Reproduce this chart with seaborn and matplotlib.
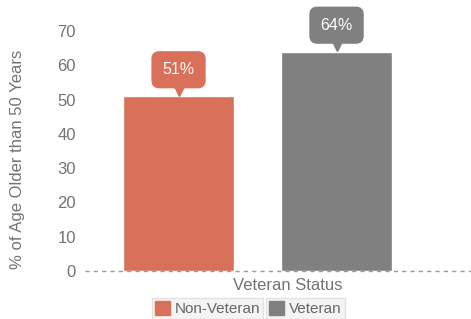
import matplotlib
matplotlib.use("Agg")
import matplotlib.pyplot as plt
import matplotlib.transforms as mtransforms
from matplotlib.patches import Patch
import seaborn as sns
import pandas as pd

categories = ["Non-Veteran", "Veteran"]
values = [51, 64]
colors = ["#d9705a", "#808080"]
yticks = [0, 10, 20, 30, 40, 50, 60, 70]

sns.set_style("white")
plt.rcParams["font.family"] = ["Liberation Sans", "DejaVu Sans"]

df = pd.DataFrame({"status": categories, "pct": values})

fig = plt.figure(figsize=(4.71, 3.19), dpi=100)
ax = fig.add_axes([85 / 471, 48 / 319, 386 / 471, 240 / 319])

sns.barplot(data=df, x="status", y="pct", hue="status", palette=colors,
            width=0.70, dodge=False, legend=False, ax=ax, saturation=1)

ax.set_ylim(0, 70)
ax.set_xlim(-0.592, 1.851)
ax.set_yticks(yticks)
ax.set_xticks([])
for s in ax.spines.values():
    s.set_visible(False)
ax.axhline(0, color="#999999", lw=1, ls=(0, (3, 3)), clip_on=False)
ax.tick_params(axis="y", colors="#737373", labelsize=12, length=0, pad=6.5)
ax.set_ylabel("% of Age Older than 50 Years", color="#737373", fontsize=12, va="center")
ax.yaxis.set_label_coords(-0.176, 0.467)
ax.set_xlabel("Veteran Status", color="#737373", fontsize=12, va="center")
ax.xaxis.set_label_coords(0.525, -0.0625)

tri = mtransforms.offset_copy(ax.transData, fig=fig, y=4.5, units="points")
for i, (v, c) in enumerate(zip(values, colors)):
    ax.plot(i, v, marker="v", ms=9, color=c, transform=tri, clip_on=False)
    ax.annotate(f"{v}%", xy=(i, v), xytext=(0, 19), textcoords="offset points",
                ha="center", va="center", color="white", fontsize=11.5,
                annotation_clip=False,
                bbox=dict(boxstyle="round,pad=0.65,rounding_size=0.45", fc=c, ec=c))

legend_pos = [(152 / 471, 0.0), (266 / 471, 0.0)]
for cat, c, (lx, ly) in zip(categories, colors, legend_pos):
    leg = fig.legend(handles=[Patch(fc=c, ec=c, label=cat)], loc="lower left",
                     bbox_to_anchor=(lx, ly), frameon=True, fancybox=False,
                     fontsize=11, handlelength=1.0, handleheight=1.0,
                     handletextpad=0.3, borderpad=0.2, borderaxespad=0.0,
                     labelcolor="#666666")
    leg.get_frame().set_facecolor("#f2f2f2")
    leg.get_frame().set_edgecolor("#dddddd")

fig.savefig("out.png", dpi=100)
